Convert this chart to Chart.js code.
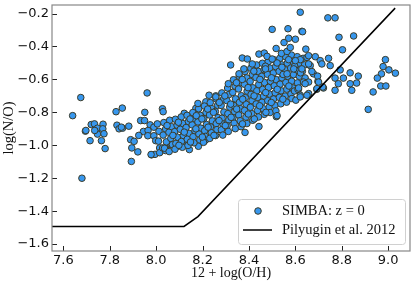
<!DOCTYPE html>
<html>
<head>
<meta charset="utf-8">
<script src="https://cdn.jsdelivr.net/npm/chart.js@4.4.1/dist/chart.umd.min.js"></script>
<style>
  html, body { margin: 0; padding: 0; background: #fff; }
  canvas { display: block; }
</style>
</head>
<body>
<canvas id="noChart" width="415" height="283"></canvas>
<script>
// tick labels
const xTicks = [7.6, 7.8, 8.0, 8.2, 8.4, 8.6, 8.8, 9.0];
const yTicks = [-1.6, -1.4, -1.2, -1.0, -0.8, -0.6, -0.4, -0.2];

// SIMBA galaxies, [12+log(O/H), log(N/O)]
const lowMetalPts = [
  [7.64,-0.82],[7.675,-0.71],[7.68,-1.20],[7.695,-0.914],[7.715,-0.972],[7.72,-0.874],
  [7.734,-0.87],[7.747,-0.896],[7.747,-0.932],[7.735,-0.91],[7.771,-0.872],[7.77,-0.90],
  [7.775,-0.93],[7.764,-0.972],[7.78,-1.02],[7.697,-0.91],[7.827,-0.796],[7.854,-0.774],
  [7.831,-0.878],[7.84,-0.90],[7.855,-0.896],[7.882,-0.884],[7.85,-0.89],[7.89,-0.966],
  [7.905,-0.976],[7.895,-1.016],[7.921,-1.04],[7.893,-1.098],[7.951,-0.80],[7.933,-0.85],
  [7.95,-0.85],[7.974,-0.876],[7.99,-0.89],[7.945,-0.916],[7.965,-0.91],[7.925,-0.94],
  [7.964,-0.942],[7.99,-0.942],[7.998,-0.972],[8.01,-0.975],[8.015,-1.016],[7.98,-1.058],
  [7.995,-1.055],[8.015,-1.045],[7.961,-0.682],[8.027,-0.778],[8.03,-0.796],[7.978,-1.056],
  [8.028,-1.016],[8.042,-1.026],[8.064,-0.996],[8.092,-1.006],[8.143,-1.026],[8.182,-1.006],
  [8.128,-0.996],[8.057,-0.986],[8.04,-1.032],[8.207,-0.976],[8.214,-0.966],[8.128,-0.966],
  [8.121,-0.806],[8.171,-0.776],[8.214,-0.736],[8.005,-0.87],[8.012,-0.915]
];

const bandPts = [
  [8.033,-0.862],[8.041,-0.901],[8.030,-0.938],[8.044,-0.979],[8.036,-1.018],
  [8.058,-0.848],[8.066,-0.887],[8.055,-0.921],[8.063,-0.958],[8.070,-0.996],[8.056,-1.038],
  [8.083,-0.842],[8.090,-0.878],[8.080,-0.917],[8.092,-0.951],[8.085,-0.989],[8.081,-1.024],
  [8.108,-0.828],[8.115,-0.868],[8.104,-0.903],[8.117,-0.941],[8.109,-0.977],[8.113,-1.012],
  [8.133,-0.818],[8.139,-0.856],[8.129,-0.892],[8.142,-0.928],[8.134,-0.963],[8.137,-1.001],
  [8.158,-0.801],[8.165,-0.838],[8.155,-0.876],[8.167,-0.912],[8.159,-0.948],[8.163,-0.985],
  [8.183,-0.778],[8.190,-0.818],[8.180,-0.858],[8.192,-0.896],[8.184,-0.931],[8.188,-0.967],
  [8.208,-0.762],[8.215,-0.801],[8.205,-0.838],[8.217,-0.874],[8.209,-0.911],[8.212,-0.946],[8.204,-0.982],
  [8.233,-0.741],[8.240,-0.778],[8.230,-0.816],[8.242,-0.852],[8.234,-0.888],[8.238,-0.924],[8.231,-0.958],
  [8.258,-0.718],[8.265,-0.757],[8.255,-0.795],[8.267,-0.832],[8.259,-0.868],[8.262,-0.905],[8.256,-0.941],
  [8.283,-0.682],[8.290,-0.721],[8.280,-0.758],[8.292,-0.798],[8.284,-0.836],[8.288,-0.871],[8.281,-0.906],[8.287,-0.938],
  [8.308,-0.652],[8.315,-0.691],[8.305,-0.729],[8.317,-0.768],[8.309,-0.808],[8.313,-0.846],[8.306,-0.881],[8.311,-0.916],
  [8.333,-0.602],[8.340,-0.641],[8.330,-0.679],[8.342,-0.718],[8.334,-0.758],[8.338,-0.796],[8.331,-0.832],[8.336,-0.866],[8.341,-0.899],
  [8.358,-0.581],[8.365,-0.619],[8.355,-0.658],[8.367,-0.699],[8.359,-0.739],[8.363,-0.778],[8.356,-0.816],[8.362,-0.851],[8.366,-0.887],
  [8.383,-0.552],[8.390,-0.591],[8.380,-0.629],[8.392,-0.671],[8.384,-0.711],[8.388,-0.751],[8.381,-0.789],[8.387,-0.829],[8.391,-0.868],
  [8.408,-0.532],[8.415,-0.571],[8.405,-0.612],[8.417,-0.651],[8.409,-0.691],[8.413,-0.729],[8.406,-0.769],[8.412,-0.808],[8.416,-0.848],
  [8.433,-0.512],[8.440,-0.551],[8.430,-0.589],[8.442,-0.631],[8.434,-0.669],[8.438,-0.709],[8.431,-0.749],[8.437,-0.789],[8.441,-0.828],
  [8.458,-0.502],[8.465,-0.541],[8.455,-0.581],[8.467,-0.619],[8.459,-0.661],[8.463,-0.701],[8.456,-0.739],[8.462,-0.778],[8.466,-0.812],
  [8.483,-0.492],[8.490,-0.531],[8.480,-0.569],[8.492,-0.611],[8.484,-0.649],[8.488,-0.689],[8.481,-0.729],[8.487,-0.768],[8.491,-0.801],
  [8.508,-0.481],[8.515,-0.522],[8.505,-0.561],[8.517,-0.601],[8.509,-0.639],[8.513,-0.681],[8.506,-0.719],[8.512,-0.758],[8.516,-0.791],
  [8.533,-0.472],[8.540,-0.511],[8.530,-0.551],[8.542,-0.591],[8.534,-0.629],[8.538,-0.669],[8.531,-0.709],[8.537,-0.748],
  [8.558,-0.462],[8.565,-0.501],[8.555,-0.541],[8.567,-0.581],[8.559,-0.619],[8.563,-0.659],[8.556,-0.701],[8.562,-0.738],
  [8.583,-0.452],[8.590,-0.491],[8.580,-0.531],[8.592,-0.571],[8.584,-0.611],[8.588,-0.651],[8.581,-0.689],
  [8.608,-0.462],[8.615,-0.501],[8.605,-0.541],[8.617,-0.581],[8.609,-0.621],[8.613,-0.661],
  [8.633,-0.472],[8.640,-0.512],[8.630,-0.551],[8.642,-0.591]
];

// extra galaxies sitting between the others in the crowded band
const bandFillPts = [
  [8.047,-0.88],[8.072,-0.94],[8.096,-0.86],[8.098,-1.00],[8.121,-0.92],[8.146,-0.84],
  [8.148,-0.98],[8.171,-0.90],[8.173,-0.82],[8.197,-0.84],[8.199,-0.95],[8.222,-0.78],
  [8.224,-0.89],[8.247,-0.80],[8.249,-0.94],[8.272,-0.74],[8.271,-0.85],[8.296,-0.70],
  [8.298,-0.88],[8.321,-0.75],[8.323,-0.83],[8.346,-0.62],[8.347,-0.78],[8.371,-0.60],
  [8.373,-0.72],[8.372,-0.87],[8.396,-0.65],[8.397,-0.81],[8.421,-0.55],[8.422,-0.70],
  [8.423,-0.84],[8.447,-0.60],[8.446,-0.76],[8.471,-0.52],[8.472,-0.68],[8.473,-0.80],
  [8.497,-0.59],[8.496,-0.74],[8.521,-0.50],[8.522,-0.66],[8.547,-0.57],[8.546,-0.72],
  [8.571,-0.48],[8.572,-0.64],[8.597,-0.52],[8.596,-0.67],[8.622,-0.56],[8.621,-0.48]
];

const upperPts = [
  [8.18,-0.746],[8.228,-0.696],[8.257,-0.70],[8.311,-0.626],[8.321,-0.512],[8.371,-0.47],
  [8.393,-0.476],[8.443,-0.446],[8.466,-0.44],[8.478,-0.46],[8.50,-0.476],[8.517,-0.412],
  [8.54,-0.442],[8.564,-0.43],[8.578,-0.406],[8.551,-0.376],[8.571,-0.35],[8.60,-0.356],
  [8.50,-0.296],[8.568,-0.292],[8.628,-0.308],[8.621,-0.192],[8.645,-0.416],[8.74,-0.226],
  [8.771,-0.226],[8.631,-0.31],[8.788,-0.344],[8.851,-0.336],[8.803,-0.42],[8.378,-0.536],
  [8.357,-0.566],[8.414,-0.506],[8.471,-0.536],[8.542,-0.526],[8.564,-0.566],[8.60,-0.486],
  [8.593,-0.536],[8.65,-0.466],[8.664,-0.516],[8.678,-0.566],[8.257,-0.706]
];

const highMetalPts = [
  [8.686,-0.462],[8.707,-0.486],[8.743,-0.472],[8.75,-0.516],[8.714,-0.506],[8.793,-0.542],
  [8.836,-0.56],[8.871,-0.58],[8.771,-0.592],[8.807,-0.592],[8.785,-0.626],[8.836,-0.626],
  [8.864,-0.622],[8.843,-0.666],[8.771,-0.666],[8.721,-0.652],[8.692,-0.66],[8.697,-0.612],
  [8.696,-0.58],[8.671,-0.552],[8.657,-0.456],[8.657,-0.506],[8.628,-0.536],[8.635,-0.616],
  [8.657,-0.616],[8.611,-0.66],[8.621,-0.696],[8.657,-0.686],[8.585,-0.716],[8.602,-0.726],
  [8.621,-0.706],[8.65,-0.696],[8.614,-0.652],[8.642,-0.626],[8.70,-0.616],[8.693,-0.656],
  [8.718,-0.646],[8.988,-0.48],[8.978,-0.522],[9.003,-0.542],[9.031,-0.562],[8.971,-0.566],
  [8.953,-0.592],[8.968,-0.64],[8.99,-0.64],[8.935,-0.676],[8.914,-0.782],
  [8.383,-0.922],[8.518,-0.826],[8.443,-0.886],[8.521,-0.82]
];

// Pilyugin et al. 2012 relation
const pilX = [7.50, 8.12, 8.18, 9.03];
const pilY = [-1.493, -1.493, -1.433, -0.167];

const simbaPts = [...lowMetalPts, ...bandPts, ...bandFillPts, ...upperPts, ...highMetalPts];

const serif = "'Liberation Serif', 'DejaVu Serif', serif";
const sans = "'DejaVu Sans', sans-serif";
const minus = v => v.toFixed(1).replace('-', '\u2212');

// inward ticks and the box round the plot
const framePlugin = {
  id: 'frame',
  afterDatasetsDraw(chart) {
    const { ctx, chartArea: a, scales: { x, y } } = chart;
    ctx.save();
    ctx.strokeStyle = '#222';
    ctx.lineWidth = 1;
    ctx.beginPath();
    x.ticks.forEach(t => {
      const px = Math.round(x.getPixelForValue(t.value)) + 0.5;
      ctx.moveTo(px, a.bottom);
      ctx.lineTo(px, a.bottom - 5);
    });
    y.ticks.forEach(t => {
      const py = Math.round(y.getPixelForValue(t.value)) + 0.5;
      ctx.moveTo(a.left, py);
      ctx.lineTo(a.left + 5, py);
    });
    ctx.stroke();
    ctx.strokeStyle = '#888';
    ctx.lineWidth = 1.2;
    ctx.strokeRect(a.left, a.top, a.right - a.left, a.bottom - a.top);
    ctx.restore();
  }
};

// matplotlib style legend in the lower right corner
const legendPlugin = {
  id: 'boxLegend',
  afterDraw(chart) {
    const { ctx, chartArea: a } = chart;
    const ds = chart.data.datasets;
    const w = 167, h = 45;
    const bx = a.right - 5 - w, by = a.bottom - 7 - h;
    ctx.save();
    ctx.fillStyle = 'rgba(255,255,255,0.85)';
    ctx.strokeStyle = '#d0d0d0';
    ctx.lineWidth = 1;
    ctx.beginPath();
    ctx.roundRect(bx + 0.5, by + 0.5, w, h, 3);
    ctx.fill();
    ctx.stroke();

    const row1 = by + 12, row2 = by + 31;
    ctx.beginPath();
    ctx.arc(bx + 20, row1, ds[0].pointRadius, 0, Math.PI * 2);
    ctx.fillStyle = ds[0].backgroundColor;
    ctx.fill();
    ctx.strokeStyle = ds[0].borderColor;
    ctx.lineWidth = ds[0].borderWidth;
    ctx.stroke();

    ctx.beginPath();
    ctx.moveTo(bx + 5, row2);
    ctx.lineTo(bx + 34, row2);
    ctx.strokeStyle = ds[1].borderColor;
    ctx.lineWidth = ds[1].borderWidth;
    ctx.stroke();

    ctx.fillStyle = '#111';
    ctx.font = '14.5px ' + serif;
    ctx.textBaseline = 'middle';
    ctx.fillText(ds[0].label, bx + 44, row1);
    ctx.fillText(ds[1].label, bx + 44, row2);
    ctx.restore();
  }
};

new Chart(document.getElementById('noChart'), {
  type: 'scatter',
  data: {
    datasets: [
      {
        label: 'SIMBA: z = 0',
        data: simbaPts.map(p => ({ x: p[0], y: p[1] })),
        backgroundColor: '#3797ee',
        borderColor: '#3b3b28',
        borderWidth: 1,
        pointRadius: 3.3,
        order: 1
      },
      {
        label: 'Pilyugin et al. 2012',
        data: pilX.map((x, i) => ({ x: x, y: pilY[i] })),
        showLine: true,
        pointRadius: 0,
        borderColor: '#000',
        borderWidth: 1.5,
        order: 0
      }
    ]
  },
  options: {
    responsive: false,
    animation: false,
    devicePixelRatio: 1,
    layout: { padding: { top: 2, right: 3, left: 0, bottom: 0 } },
    plugins: { legend: { display: false }, tooltip: { enabled: false } },
    scales: {
      x: {
        type: 'linear',
        min: 7.551,
        max: 9.094,
        afterFit: s => { s.height = 32; s.paddingLeft = 0; s.paddingRight = 0; },
        afterBuildTicks: s => { s.ticks = xTicks.map(v => ({ value: v })); },
        grid: { display: false, drawTicks: false },
        border: { display: false },
        ticks: { color: '#111', padding: 2, font: { family: sans, size: 13 }, maxRotation: 0, callback: v => minus(v) },
        title: { display: true, text: '12 + log(O/H)', color: '#111', padding: { top: 0, bottom: 1 }, font: { family: serif, size: 14 } }
      },
      y: {
        type: 'linear',
        min: -1.642,
        max: -0.148,
        afterFit: s => { s.width = 52; s.paddingTop = 0; s.paddingBottom = 0; },
        afterBuildTicks: s => { s.ticks = yTicks.map(v => ({ value: v })); },
        grid: { display: false, drawTicks: false },
        border: { display: false },
        ticks: { color: '#111', padding: 3, font: { family: sans, size: 13 }, callback: v => minus(v) },
        title: { display: true, text: 'log(N/O)', color: '#111', padding: { top: 0, bottom: 0 }, font: { family: serif, size: 14.5 } }
      }
    }
  },
  plugins: [framePlugin, legendPlugin]
});
</script>
</body>
</html>
